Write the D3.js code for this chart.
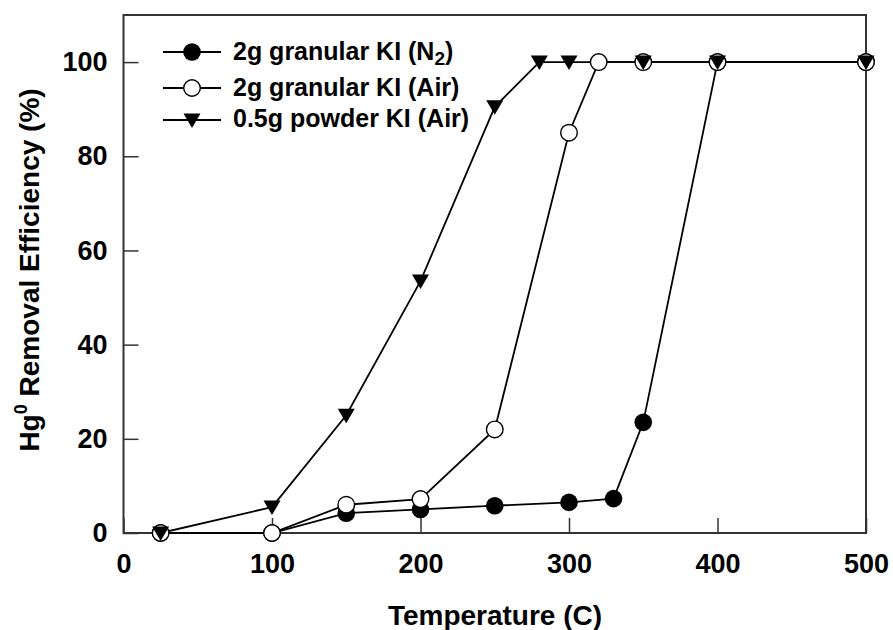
<!DOCTYPE html>
<html><head><meta charset="utf-8">
<script src="https://cdn.jsdelivr.net/npm/d3@7"></script>
<style>body{margin:0;background:#fff}svg{display:block}text{font-family:"Liberation Sans",Arial,sans-serif;font-weight:bold;fill:#000}</style>
</head><body><svg id="c" width="893" height="630"></svg>
<script>
const seriesNames = ["2g granular KI (N2)", "2g granular KI (Air)", "0.5g powder KI (Air)"];
const tempN2 = [25, 100, 150, 200, 250, 300, 330, 350, 400, 500];
const effN2  = [0, 0, 4.2, 5, 5.8, 6.5, 7.3, 23.5, 100, 100];
const tempAir = [25, 100, 150, 200, 250, 300, 320, 350, 400, 500];
const effAir  = [0, 0, 6, 7.2, 22, 85, 100, 100, 100, 100];
const tempPow = [25, 100, 150, 200, 250, 280, 300, 350, 400, 500];
const effPow  = [0, 5.5, 25, 53.5, 90.5, 100, 100, 100, 100, 100];
const xTicks = [0, 100, 200, 300, 400, 500];
const yTicks = [0, 20, 40, 60, 80, 100];

const svg = d3.select("#c");
const x = d3.scaleLinear().domain([0, 500]).range([123.5, 866]);
const y = d3.scaleLinear().domain([0, 110]).range([533, 15]);

const series = [
  {name: seriesNames[0], t: tempN2, v: effN2, sym: "fcircle"},
  {name: seriesNames[1], t: tempAir, v: effAir, sym: "ocircle"},
  {name: seriesNames[2], t: tempPow, v: effPow, sym: "tri"}
];

// frame
svg.append("rect").attr("x", x(0)).attr("y", y(110)).attr("width", x(500)-x(0)).attr("height", y(0)-y(110))
  .attr("fill", "none").attr("stroke", "#333").attr("stroke-width", 2);

// axes with inward ticks
const xAxis = svg.append("g").attr("transform", `translate(0,${y(0)})`)
  .call(d3.axisBottom(x).tickValues(xTicks).tickSize(-15).tickPadding(21).tickFormat(d3.format("d")));
xAxis.select(".domain").remove();
xAxis.selectAll("line").attr("stroke", "#333").attr("stroke-width", 1.5);
xAxis.selectAll("text").attr("font-size", 27).attr("font-family", "Liberation Sans, Arial, sans-serif").attr("font-weight", "bold").attr("fill", "#000");

const yAxis = svg.append("g").attr("transform", `translate(${x(0)},0)`)
  .call(d3.axisLeft(y).tickValues(yTicks).tickSize(-15).tickPadding(16).tickFormat(d3.format("d")));
yAxis.select(".domain").remove();
yAxis.selectAll("line").attr("stroke", "#333").attr("stroke-width", 1.5);
yAxis.selectAll("text").attr("font-size", 27).attr("font-family", "Liberation Sans, Arial, sans-serif").attr("font-weight", "bold").attr("fill", "#000");

// lines
const line = d3.line().x(d => x(d[0])).y(d => y(d[1]));
series.forEach(s => {
  svg.append("path").datum(s.t.map((t, i) => [t, s.v[i]]))
    .attr("d", line).attr("fill", "none").attr("stroke", "#000").attr("stroke-width", 1.8);
});

const triPath = "M-8.5,-6.5 L8.5,-6.5 L0,8 Z";
function drawSym(g, sym) {
  if (sym === "fcircle") g.append("circle").attr("r", 8.8).attr("fill", "#000");
  else if (sym === "ocircle") g.append("circle").attr("r", 8.3).attr("fill", "#fff").attr("stroke", "#000").attr("stroke-width", 1.4);
  else g.append("path").attr("d", triPath).attr("fill", "#000");
}
series.forEach(s => {
  s.t.forEach((t, i) => {
    const g = svg.append("g").attr("transform", `translate(${x(t)},${y(s.v[i])})`);
    drawSym(g, s.sym);
  });
});

// legend
const legY = [52, 88, 120];
const legBase = [60, 96, 127];
series.forEach((s, i) => {
  svg.append("line").attr("x1", 163).attr("x2", 221).attr("y1", legY[i]).attr("y2", legY[i])
    .attr("stroke", "#000").attr("stroke-width", 1.8);
  const g = svg.append("g").attr("transform", `translate(192,${legY[i]})`);
  drawSym(g, s.sym);
});
const lt0 = svg.append("text").attr("x", 233).attr("y", legBase[0]).attr("font-size", 25);
lt0.append("tspan").text("2g granular KI (N");
lt0.append("tspan").attr("font-size", 19).attr("dy", 5).text("2");
lt0.append("tspan").attr("dy", -5).text(")");
svg.append("text").attr("x", 233).attr("y", legBase[1]).attr("font-size", 25).text(seriesNames[1]);
svg.append("text").attr("x", 233).attr("y", legBase[2]).attr("font-size", 25).text(seriesNames[2]);

// axis titles
svg.append("text").attr("x", 495).attr("y", 625).attr("text-anchor", "middle").attr("font-size", 28).text("Temperature (C)");
const yt = svg.append("text").attr("transform", "translate(39,270) rotate(-90)").attr("text-anchor", "middle").attr("font-size", 28);
yt.append("tspan").text("Hg");
yt.append("tspan").attr("font-size", 18).attr("dy", -12).text("0");
yt.append("tspan").attr("dy", 12).text(" Removal Efficiency (%)");
</script></body></html>
